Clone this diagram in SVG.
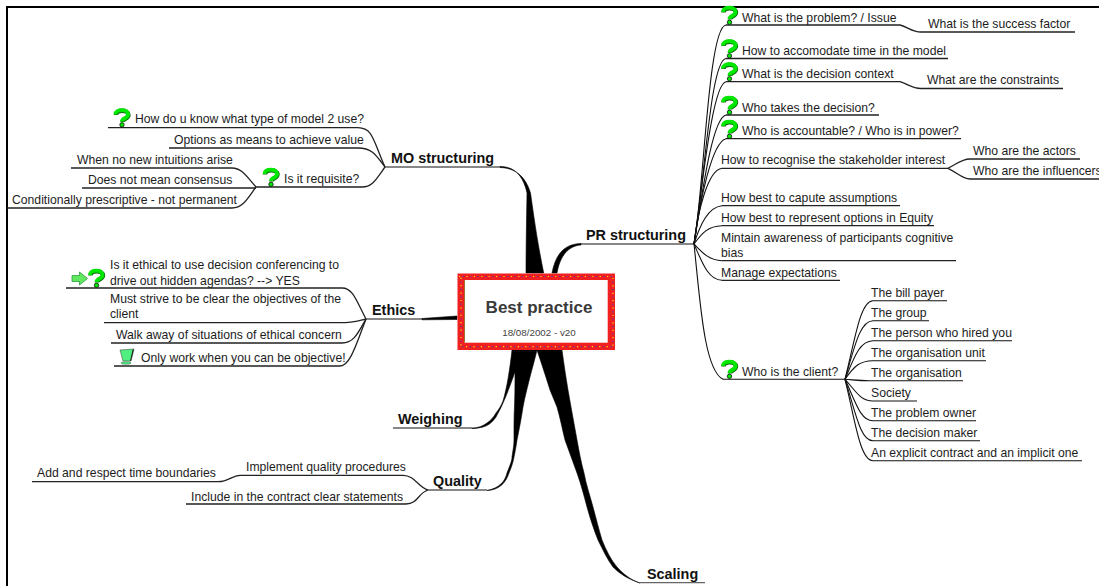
<svg xmlns="http://www.w3.org/2000/svg" width="1099" height="586" viewBox="0 0 1099 586">
<style>
text{font-family:"Liberation Sans",Arial,sans-serif;font-size:12.2px;fill:#1c1c1c}
.b{font-weight:bold;font-size:14.4px;fill:#111}
.l{fill:none;stroke:#111;stroke-width:1.1}
.u{fill:none;stroke:#222;stroke-width:1.3}
.w{fill:#000;stroke:#000;stroke-width:.6;stroke-linejoin:round}
.dy{fill:none;stroke:#ffd820;stroke-width:1.2;stroke-dasharray:1.2 6.2}
.db{fill:none;stroke:#5040b0;stroke-width:1.2;stroke-dasharray:1.2 6.2;stroke-dashoffset:3.7}
</style>
<defs>
<g id="q"><path d="M-6 -4C-6 -9.800 6.500 -9.800 6.500 -4C6.500 0 .5 -.5 .5 3" fill="none" stroke="#0a6a0a" stroke-width="4.400" transform="translate(.5 .6)"/><path d="M-6 -4C-6 -9.800 6.500 -9.800 6.500 -4C6.500 0 .5 -.5 .5 3" fill="none" stroke="#00e800" stroke-width="3.900"/><circle cx=".5" cy="6.300" r="2.200" fill="#00e800" stroke="#111" stroke-width=".8"/></g>
</defs>
<g id="frame"><path d="M7 586V7H1099" fill="none" stroke="#000" stroke-width="2"/></g>
<g id="connectors">
<path class="w" d="M500 166.500C514 166.500 523 175 527 193C526.500 220 526 250 526 273H543.700C538 245 535 225 530.500 193C525 175 514 168 500 167.500Z"/>
<path class="w" d="M581 243.500C566 244 556 252 552 273H557C560 256 568 246 581 245Z"/>
<path class="w" d="M422 318.500L457 316V319.500L422 319.800Z"/>
<path class="w" d="M472 428C478 428 483 426 487 423C490 421 493 418 496 413C499 409 501 406 503 401C507 388 510 368 512 350H537C535 358 533 366 531 373C528 385 525 396 523 407C521 420 519 430 517 440C516 447 515 452 514 457C513 463 511 468 509 473C506 482 500 490 487 490.500C500 488 505 481 507 473C510 465 512 461 512 457C513 450 514 445 514 440C514 425 514 415 514.500 407C515 395 515 380 515 372C512 380 508 392 503 403C501 408 498 413 496 417C492 423 487 426 483 427C479 428 475 428.500 472 428.500Z"/>
<path class="w" d="M640 583C628 579 620 574 613 567C607 559 603 550 598 540C594 530 590 518 587 507C584 496 581 484 577 473C573 462 569 451 565 440C562 428 560 417 557 407L550 390C546 377 541 362 537 350H562C564 365 566 378 568 390C569 396 570 401 571 407C573 418 575 429 577 440C579 451 581 462 584 473C586 484 590 496 593 507C596 518 599 530 602 540C606 550 611 560 617 567C623 574 631 580 640 583Z"/>
<path class="l" d="M385 167H500"/>
<path class="l" d="M366 319H422"/>
<path class="l" d="M581 244H694" stroke="#444"/>
<path class="l" d="M393 428H472"/>
<path class="l" d="M428 490H487"/>
<path class="u" d="M640 582.700H705" style="stroke:#666"/>
<path class="u" d="M108 127.700H358C373 128 373 140 385 167"/>
<path class="u" d="M169 148H358C372 148 376 155 385 167"/>
<path class="u" d="M256 187H362C372 187 375 181 385 167"/>
<path class="u" d="M71 168H232C242 168 247 177 256 187"/>
<path class="u" d="M82 188H256"/>
<path class="u" d="M7 208H232C243 208 248 198 256 187"/>
<path class="u" d="M66 288H342C353 288 356 300 366 319"/>
<path class="u" d="M104 322.700H345C353 322.700 358 321 366 319"/>
<path class="u" d="M111 343H342C354 343 358 333 366 319"/>
<path class="u" d="M114 366H340C350 366 356 345 366 319"/>
<path class="u" d="M726 25H900C908 27 912 32 921 32H1075"/>
<path class="u" d="M726 58.500H948"/>
<path class="u" d="M726 81.700H900C908 84 912 88.500 921 88.500H1063"/>
<path class="u" d="M726 115H879"/>
<path class="u" d="M726 138.700H961"/>
<path class="u" d="M722 168.300H948"/>
<path class="u" d="M948 168.300C958 163 962 159 970 159H1080"/>
<path class="u" d="M948 168.300C958 173 962 179 970 179H1099"/>
<path class="u" d="M722 205.700H900"/>
<path class="u" d="M722 225.700H934"/>
<path class="u" d="M722 260.700H956"/>
<path class="u" d="M722 280.300H840"/>
<path class="l" d="M694 244C704 190 708 27 726 25"/>
<path class="l" d="M694 244C704 190 710 60 726 58.500"/>
<path class="l" d="M694 244C702 190 712 84 726 81.700"/>
<path class="l" d="M694 244C702 195 712 118 726 115"/>
<path class="l" d="M694 244C700 200 712 142 726 138.700"/>
<path class="l" d="M694 244C698 210 708 170 722 168.300"/>
<path class="l" d="M694 244C700 225 708 207 722 205.700"/>
<path class="l" d="M694 244C702 233 708 226 722 225.700"/>
<path class="l" d="M694 244C702 252 708 260 722 260.700"/>
<path class="l" d="M694 244C702 262 708 280 722 280.300"/>
<path class="l" d="M694 244C700 300 704 370 723 379.300H845"/>
<path class="l" d="M845 379.300C855 340 860 301 873 300.700H947"/>
<path class="l" d="M845 379.300C855 345 860 321 873 320.700H929"/>
<path class="l" d="M845 379.300C855 355 860 341 873 340.700H1012"/>
<path class="l" d="M845 379.300C855 365 860 361 873 360.700H986"/>
<path class="l" d="M845 379.300C855 380 860 381 873 380.700H963"/>
<path class="l" d="M845 379.300C855 390 860 401 873 401H917"/>
<path class="l" d="M845 379.300C855 400 860 421 873 420.700H976"/>
<path class="l" d="M845 379.300C855 410 860 441 873 440.700H980"/>
<path class="l" d="M845 379.300C855 420 860 461 873 460.700H1082"/>
<path class="u" d="M428 490C418 487 415 475.500 403 475.300H240C232 475.300 229 481.700 218 481.700H32"/>
<path class="u" d="M428 490C418 493 418 504 406 504H186"/>
</g>
<g id="root"><rect x="457.500" y="273.500" width="157.500" height="76.500" fill="#f02020"/><path class="dy" d="M459 276.500H613V346.700H461V276.500"/><path class="db" d="M459 276.500H613V346.700H461V276.500"/><rect x="464" y="280" width="143.700" height="62.700" fill="#fff"/><path d="M464.500 342.700V280" fill="none" stroke="#a07030" stroke-width="1"/><text x="539" y="313" text-anchor="middle" style="font-weight:bold;font-size:17px;fill:#3a3a3a">Best practice</text><text x="539" y="336" text-anchor="middle" style="font-size:9.8px;fill:#444">18/08/2002 - v20</text></g>
<g id="n-mo"><text class="b" x="391" y="163">MO structuring</text></g>
<g id="n-ethics"><text class="b" x="372" y="315">Ethics</text></g>
<g id="n-pr"><text class="b" x="586" y="240">PR structuring</text></g>
<g id="n-weighing"><text class="b" x="398" y="424">Weighing</text></g>
<g id="n-quality"><text class="b" x="433" y="486">Quality</text></g>
<g id="n-scaling"><text class="b" x="647" y="579">Scaling</text></g>
<g id="t1"><use href="#q" x="121.500" y="118.500"/><text x="135" y="123">How do u know what type of model 2 use?</text></g>
<g id="t2"><text x="174" y="144">Options as means to achieve value</text></g>
<g id="t3"><text x="77" y="164">When no new intuitions arise</text></g>
<g id="t4"><text x="88" y="184">Does not mean consensus</text></g>
<g id="t5"><text x="12" y="204">Conditionally prescriptive - not permanent</text></g>
<g id="t6"><use href="#q" x="270.500" y="178"/><text x="284" y="183">Is it requisite?</text></g>
<g id="t7"><path d="M72 275.500H79.500V272L87.500 278.500L79.500 285V281.500H72Z" fill="#60e860" stroke="#2f9a3f" stroke-width=".8"/><use href="#q" x="96" y="279"/><text x="110" y="269">Is it ethical to use decision conferencing to</text><text x="110" y="285">drive out hidden agendas? --&gt; YES</text></g>
<g id="t8"><text x="110" y="303">Must strive to be clear the objectives of the</text><text x="110" y="318">client</text></g>
<g id="t9"><text x="116" y="339">Walk away of situations of ethical concern</text></g>
<g id="t10"><path d="M120 350L134 349L131 361H123Z" fill="#50f080" stroke="#333" stroke-width=".5"/><path d="M134 349L131 361L130 361L132.500 350Z" fill="#222"/><ellipse cx="126" cy="363" rx="5" ry="1.300" fill="#50f080" stroke="#333" stroke-width=".4"/><text x="141" y="362">Only work when you can be objective!</text></g>
<g id="t11"><use href="#q" x="729" y="16"/><text x="742" y="22">What is the problem? / Issue</text></g>
<g id="t12"><text x="928" y="28">What is the success factor</text></g>
<g id="t13"><use href="#q" x="729" y="49.500"/><text x="742" y="55">How to accomodate time in the model</text></g>
<g id="t14"><use href="#q" x="729" y="72.500"/><text x="742" y="78">What is the decision context</text></g>
<g id="t15"><text x="927" y="84">What are the constraints</text></g>
<g id="t16"><use href="#q" x="729" y="106"/><text x="742" y="112">Who takes the decision?</text></g>
<g id="t17"><use href="#q" x="729" y="130"/><text x="742" y="135">Who is accountable? / Who is in power?</text></g>
<g id="t18"><text x="721" y="164">How to recognise the stakeholder interest</text></g>
<g id="t19"><text x="973" y="155">Who are the actors</text></g>
<g id="t20"><text x="973" y="175">Who are the influencers</text></g>
<g id="t21"><text x="721" y="202">How best to capute assumptions</text></g>
<g id="t22"><text x="721" y="222">How best to represent options in Equity</text></g>
<g id="t23"><text x="721" y="242">Mintain awareness of participants cognitive</text><text x="721" y="257">bias</text></g>
<g id="t24"><text x="721" y="277">Manage expectations</text></g>
<g id="t25"><use href="#q" x="729" y="370"/><text x="742" y="376">Who is the client?</text></g>
<g id="t26"><text x="871" y="297">The bill payer</text></g>
<g id="t27"><text x="871" y="317">The group</text></g>
<g id="t28"><text x="871" y="337">The person who hired you</text></g>
<g id="t29"><text x="871" y="357">The organisation unit</text></g>
<g id="t30"><text x="871" y="377">The organisation</text></g>
<g id="t31"><text x="871" y="397">Society</text></g>
<g id="t32"><text x="871" y="417">The problem owner</text></g>
<g id="t33"><text x="871" y="437">The decision maker</text></g>
<g id="t34"><text x="871" y="457">An explicit contract and an implicit one</text></g>
<g id="t35"><text x="246" y="471">Implement quality procedures</text></g>
<g id="t36"><text x="37" y="477">Add and respect time boundaries</text></g>
<g id="t37"><text x="191" y="501">Include in the contract clear statements</text></g>
</svg>
